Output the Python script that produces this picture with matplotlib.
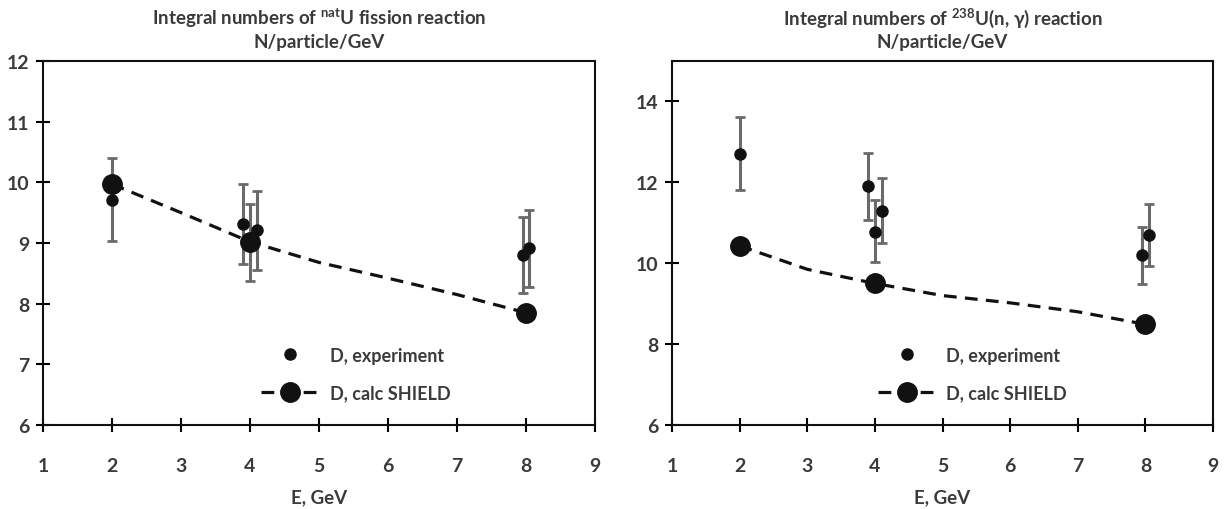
import matplotlib
matplotlib.use("Agg")
import matplotlib.pyplot as plt
from matplotlib import font_manager

# ---------------- data ----------------
# Left panel: natU fission
fis_exp_x = [2.0, 3.9, 4.0, 4.1, 7.95, 8.05]
fis_exp_y = [9.71, 9.32, 9.01, 9.22, 8.81, 8.91]
fis_exp_lo = [9.03, 8.65, 8.38, 8.56, 8.17, 8.27]
fis_exp_hi = [10.40, 9.97, 9.64, 9.85, 9.43, 9.54]
fis_calc_x = [2, 3, 4, 5, 6, 7, 8]
fis_calc_y = [9.97, 9.50, 9.02, 8.68, 8.42, 8.15, 7.85]
fis_marker_idx = [0, 2, 6]

# Right panel: 238U(n,gamma)
ng_exp_x = [2.0, 3.9, 4.0, 4.1, 7.95, 8.05]
ng_exp_y = [12.70, 11.92, 10.77, 11.30, 10.20, 10.70]
ng_exp_lo = [11.80, 11.08, 10.04, 10.50, 9.48, 9.93]
ng_exp_hi = [13.62, 12.73, 11.57, 12.10, 10.89, 11.46]
ng_calc_x = [2, 3, 4, 5, 6, 7, 8]
ng_calc_y = [10.43, 9.85, 9.50, 9.20, 9.02, 8.80, 8.49]
ng_marker_idx = [0, 2, 6]

x_ticks = [1, 2, 3, 4, 5, 6, 7, 8, 9]
left_yticks = [6, 7, 8, 9, 10, 11, 12]
right_yticks = [6, 8, 10, 12, 14]

titles = [r"Integral numbers of $^{\mathbf{nat}}$U fission reaction" + "\nN/particle/GeV",
          r"Integral numbers of $^{238}$U(n, $\gamma$) reaction" + "\nN/particle/GeV"]
xlabel = "E, GeV"
leg_exp = "D, experiment"
leg_calc = "D, calc SHIELD"

# ---------------- style ----------------
avail = {f.name for f in font_manager.fontManager.ttflist}
fam = "Lato" if "Lato" in avail else "Liberation Sans"
plt.rcParams['font.family'] = [fam, 'DejaVu Sans']
plt.rcParams['font.weight'] = 'bold'
plt.rcParams['mathtext.default'] = 'regular'
plt.rcParams['mathtext.fontset'] = 'custom'
plt.rcParams['mathtext.rm'] = fam
plt.rcParams['mathtext.bf'] = fam + ':bold'
txt_col = '#3a3a3a'

fig = plt.figure(figsize=(12.25, 5.1), dpi=100)
axL = fig.add_axes([43/1225, 1-426/510, 552/1225, 364/510])
axR = fig.add_axes([672/1225, 1-426/510, 541/1225, 364/510])

panels = [
    (axL, fis_exp_x, fis_exp_y, fis_exp_lo, fis_exp_hi, fis_calc_x, fis_calc_y, fis_marker_idx,
     (6, 12), left_yticks, 0.567),
    (axR, ng_exp_x, ng_exp_y, ng_exp_lo, ng_exp_hi, ng_calc_x, ng_calc_y, ng_marker_idx,
     (6, 15), right_yticks, 0.555),
]

for i, (ax, ex, ey, elo, ehi, cx, cy, midx, ylim, yt, legx) in enumerate(panels):
    yerr = [[y - lo for y, lo in zip(ey, elo)], [hi - y for y, hi in zip(ey, ehi)]]
    ax.errorbar(ex, ey, yerr=yerr, fmt='none', ecolor='#6a6a6a', elinewidth=2.2,
                capsize=3.5, capthick=2, zorder=2)
    h1, = ax.plot(ex, ey, 'o', color='#111111', markersize=8, linestyle='none', zorder=3,
                  label=leg_exp)
    h2, = ax.plot(cx, cy, color='#111111', linestyle=(0, (4, 2.6)), linewidth=2.3,
                  marker='o', markersize=14, markevery=midx, zorder=4, label=leg_calc)
    ax.set_xlim(1, 9)
    ax.set_ylim(*ylim)
    ax.set_xticks(x_ticks)
    ax.set_yticks(yt)
    ax.tick_params(direction='inout', length=10, width=1.5, labelsize=14,
                   colors='black', labelcolor=txt_col)
    ax.tick_params(axis='x', pad=18)
    ax.tick_params(axis='y', pad=5)
    for sp in ax.spines.values():
        sp.set_linewidth(1.5)
        sp.set_color('#111111')
    for lab in ax.get_xticklabels() + ax.get_yticklabels():
        lab.set_fontweight('bold')
    ax.set_xlabel(xlabel, fontsize=13.5, fontweight='bold', color=txt_col, labelpad=10)
    ax.set_title(titles[i], fontsize=13.5, fontweight='bold', color=txt_col, pad=10,
                 linespacing=1.3)
    leg = ax.legend(handles=[h1, h2], loc='center', bbox_to_anchor=(legx, 0.14),
                    frameon=False, fontsize=13, handlelength=3.2, labelspacing=1.15,
                    handletextpad=0.6, numpoints=1)
    for t in leg.get_texts():
        t.set_color(txt_col)
        t.set_fontweight('bold')

fig.savefig("out.png", dpi=100, facecolor='white')
